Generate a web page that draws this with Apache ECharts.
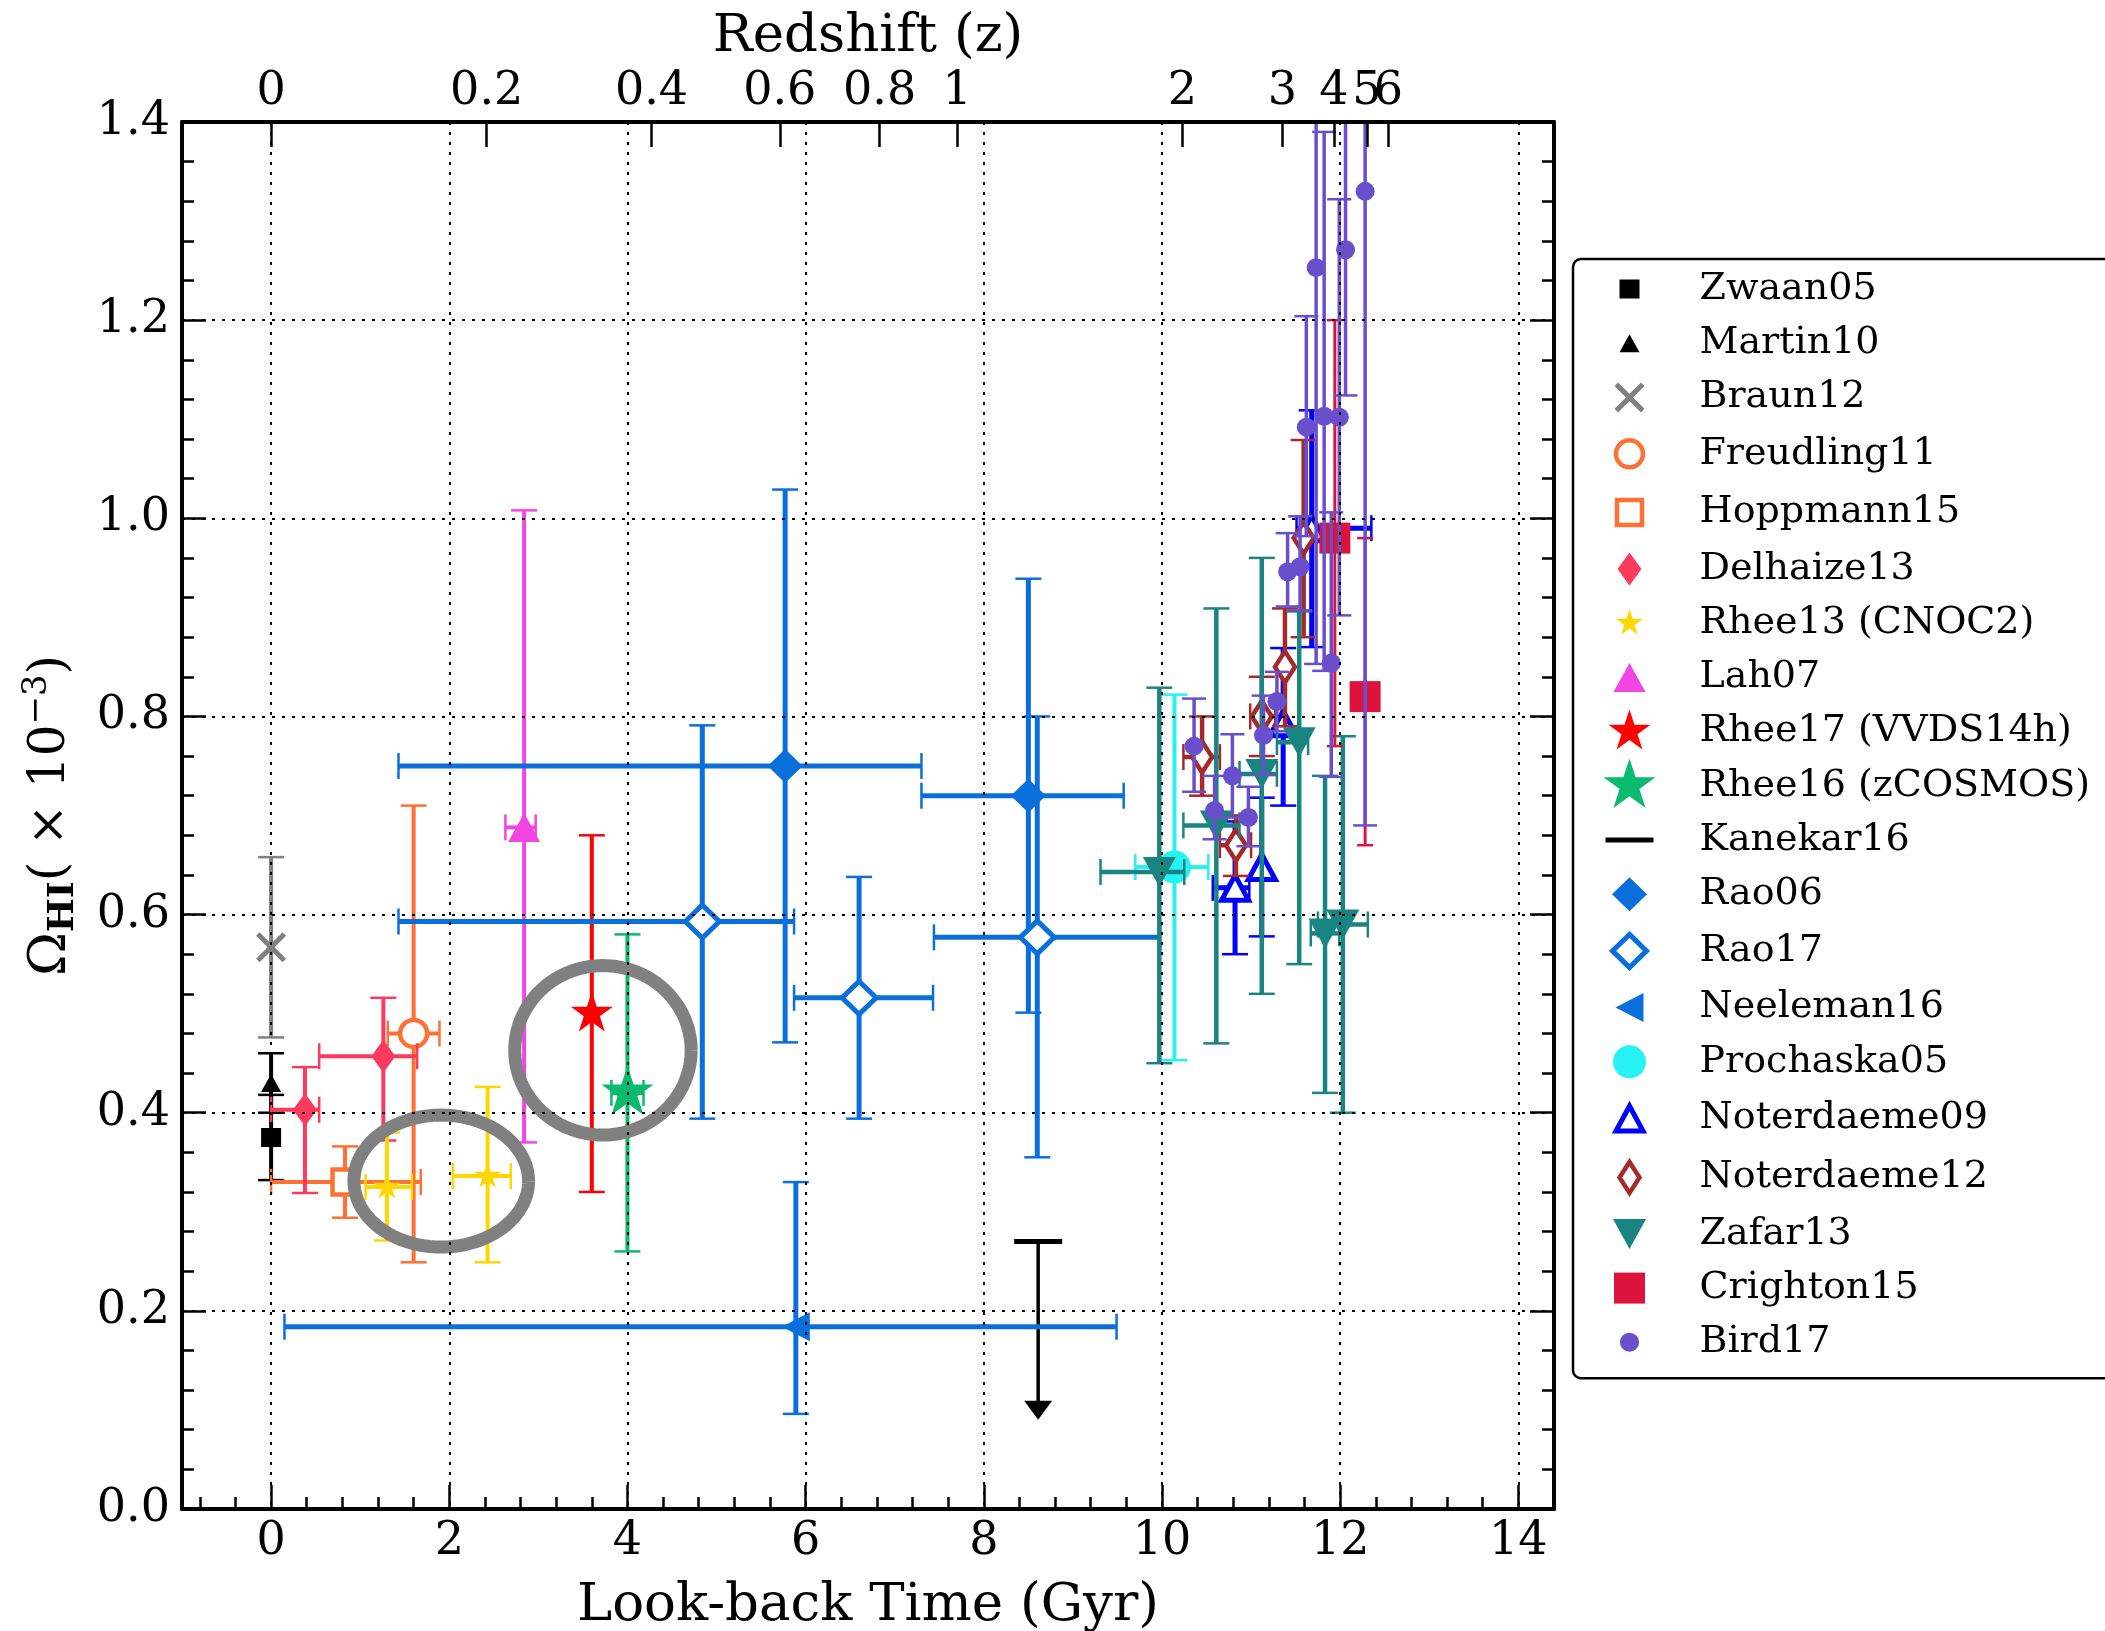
<!DOCTYPE html>
<html>
<head>
<meta charset="utf-8">
<script src="https://cdn.jsdelivr.net/npm/echarts@6/dist/echarts.min.js"></script>
<style>
  html, body { margin: 0; padding: 0; background: #ffffff; }
  #chart { width: 2105px; height: 1631px; }
</style>
</head>
<body>
<div id="chart"></div>
<script>
// Each row: [look-back time (Gyr), Omega_HI (x1e-3), x err -, x err +, y err -, y err +]
const zwaan05      = [[0.00, 0.375, 0, 0, 0.043, 0.043]];
const martin10     = [[0.00, 0.430, 0, 0, 0.030, 0.030]];
const braun12      = [[0.00, 0.567, 0, 0, 0.091, 0.091]];
const freudling11  = [[1.60, 0.480, 0.29, 0.29, 0.231, 0.230]];
const hoppmann15   = [[0.83, 0.330, 0.83, 0.85, 0.036, 0.036]];
const delhaize13   = [[0.38, 0.403, 0.38, 0.16, 0.084, 0.043],
                      [1.26, 0.457, 0.72, 0.38, 0.085, 0.059]];
const rhee13       = [[1.30, 0.325, 0.24, 0.28, 0.054, 0.055],
                      [2.43, 0.336, 0.39, 0.26, 0.087, 0.090]];
const lah07        = [[2.84, 0.688, 0.21, 0.13, 0.318, 0.320]];
const rhee17       = [[3.60, 0.500, 0, 0, 0.180, 0.180]];
const rhee16       = [[4.00, 0.420, 0.18, 0.18, 0.160, 0.160]];
// Kanekar16 upper limit: [look-back time, limit, arrow length]
const kanekar16    = [[8.61, 0.270, 0.180]];
const rao06        = [[5.77, 0.750, 4.34, 1.53, 0.279, 0.279],
                      [8.50, 0.720, 1.20, 1.07, 0.219, 0.219]];
const rao17        = [[4.84, 0.593, 3.41, 1.03, 0.199, 0.198],
                      [6.60, 0.516, 0.73, 0.83, 0.122, 0.122],
                      [8.60, 0.577, 1.16, 1.38, 0.222, 0.223]];
const neeleman16   = [[5.89, 0.184, 5.74, 3.60, 0.088, 0.146]];
const prochaska05  = [[10.14, 0.648, 0.44, 0.38, 0.195, 0.174]];
const noterdaeme09 = [[10.82, 0.627, 0.25, 0.16, 0.067, 0.067],
                      [11.12, 0.648, 0, 0, 0.070, 0.070],
                      [11.36, 0.793, 0, 0, 0.083, 0.076],
                      [11.68, 0.990, 0.17, 0.67, 0.120, 0.119]];
const noterdaeme12 = [[10.45, 0.759, 0.21, 0.20, 0.039, 0.041],
                      [10.83, 0.670, 0.18, 0.17, 0.031, 0.030],
                      [11.12, 0.800, 0.13, 0.15, 0.040, 0.040],
                      [11.38, 0.850, 0, 0, 0.060, 0.059],
                      [11.59, 0.980, 0, 0, 0.100, 0.099]];
const zafar13      = [[9.97, 0.643, 0.66, 0.28, 0.193, 0.186],
                      [10.61, 0.690, 0.37, 0.26, 0.220, 0.219],
                      [11.12, 0.742, 0.25, 0.17, 0.222, 0.218],
                      [11.54, 0.774, 0.25, 0.10, 0.224, 0.132],
                      [11.83, 0.581, 0.16, 0.16, 0.161, 0.159],
                      [12.03, 0.590, 0.28, 0.28, 0.190, 0.190]];
const crighton15   = [[11.94, 0.980, 0, 0, 0.210, 0.220],
                      [12.28, 0.820, 0, 0, 0.150, 0.160]];
const bird17       = [[10.36, 0.770, 0, 0, 0.046, 0.048],
                      [10.59, 0.705, 0, 0, 0.029, 0.035],
                      [10.79, 0.740, 0, 0, 0.042, 0.042],
                      [10.97, 0.698, 0, 0, 0.029, 0.031],
                      [11.14, 0.781, 0, 0, 0.040, 0.040],
                      [11.29, 0.815, 0, 0, 0.030, 0.030],
                      [11.41, 0.946, 0, 0, 0.035, 0.039],
                      [11.55, 0.951, 0, 0, 0.044, 0.051],
                      [11.62, 1.092, 0, 0, 0.110, 0.112],
                      [11.73, 1.253, 0, 0, 0.400, 0.400],
                      [11.82, 1.103, 0, 0, 0.257, 0.287],
                      [11.90, 0.854, 0, 0, 0.115, 0.152],
                      [11.99, 1.102, 0, 0, 0.200, 0.220],
                      [12.06, 1.271, 0, 0, 0.147, 0.147],
                      [12.28, 1.330, 0, 0, 0.640, 0.640]];

// Highlight rings: [centre time, centre Omega, radius in time, radius in Omega]
const highlightRings = [[1.91, 0.331, 0.98, 0.0666],
                        [3.725, 0.463, 0.99, 0.0855]];

// Axis ticks
const lookbackTicks    = [0, 2, 4, 6, 8, 10, 12, 14];
const redshiftLabels   = ['0', '0.2', '0.4', '0.6', '0.8', '1', '2', '3', '4', '5', '6'];
const redshiftLookback = [0, 2.42, 4.27, 5.71, 6.83, 7.70, 10.23, 11.35, 11.93, 12.30, 12.54];

const X_MIN = -1, X_MAX = 14.4, Y_MIN = 0, Y_MAX = 1.4;
const FONT = 'DejaVu Serif';

// minor ticks every 0.4 Gyr between the labelled ones
const lookbackMinor = [];
for (let k = -2; k < 36; k++) {
  const v = +(k * 0.4).toFixed(2);
  if (Math.abs(v / 2 - Math.round(v / 2)) > 1e-6) lookbackMinor.push(v);
}
// the closely packed redshift labels end with a blank slot at the axis end,
// so the end-label overlap check never drops "5" or "6"
const redshiftLabelSlots = redshiftLookback.concat([X_MAX]);

// ---- marker outlines (pixel units inside a fixed frame) ----
function shapePath(shape, w, h, cx, cy) {
  const f = n => +n.toFixed(2);
  const l = cx - w / 2, r = cx + w / 2, t = cy - h / 2, b = cy + h / 2;
  switch (shape) {
    case 'rect':
    case 'bar':
      return `M${f(l)} ${f(t)}L${f(r)} ${f(t)}L${f(r)} ${f(b)}L${f(l)} ${f(b)}Z`;
    case 'triUp':
      return `M${f(cx)} ${f(t)}L${f(r)} ${f(b)}L${f(l)} ${f(b)}Z`;
    case 'triDown':
      return `M${f(cx)} ${f(b)}L${f(l)} ${f(t)}L${f(r)} ${f(t)}Z`;
    case 'triLeft':
      return `M${f(l)} ${f(cy)}L${f(r)} ${f(t)}L${f(r)} ${f(b)}Z`;
    case 'diamond':
      return `M${f(cx)} ${f(t)}L${f(r)} ${f(cy)}L${f(cx)} ${f(b)}L${f(l)} ${f(cy)}Z`;
    case 'circle': {
      const rx = w / 2, ry = h / 2;
      return `M${f(l)} ${f(cy)}A${f(rx)} ${f(ry)} 0 1 0 ${f(r)} ${f(cy)}A${f(rx)} ${f(ry)} 0 1 0 ${f(l)} ${f(cy)}Z`;
    }
    case 'star': {
      const R = w / 1.902, ri = R * 0.381966;
      let p = '';
      for (let k = 0; k < 10; k++) {
        const a = (-90 + 36 * k) * Math.PI / 180;
        const rr = k % 2 === 0 ? R : ri;
        p += (k === 0 ? 'M' : 'L') + f(cx + rr * Math.cos(a)) + ' ' + f(cy + rr * Math.sin(a));
      }
      return p + 'Z';
    }
    case 'cross': {
      const a = w / 2, e = 5 / Math.SQRT2;
      const pts = [[-a, -a + e], [-a + e, -a], [0, -e], [a - e, -a], [a, -a + e], [e, 0],
                   [a, a - e], [a - e, a], [0, e], [-a + e, a], [-a, a - e], [-e, 0]];
      return pts.map((q, i) => (i === 0 ? 'M' : 'L') + f(cx + q[0]) + ' ' + f(cy + q[1])).join('') + 'Z';
    }
  }
  return '';
}
function framed(shape, w, h, fw, fh, cx, cy) {
  return 'path://M0 0M' + fw + ' ' + fh + shapePath(shape, w, h, cx, cy);
}

// ---- series styles ----
const sets = [
  { name: 'Zwaan05',          data: zwaan05,      color: '#000000', shape: 'rect',    w: 20, h: 19, lw: 4,   cap: 26 },
  { name: 'Martin10',         data: martin10,     color: '#000000', shape: 'triUp',   w: 20, h: 18, lw: 4,   cap: 26 },
  { name: 'Braun12',          data: braun12,      color: '#808080', shape: 'cross',   w: 30, h: 30, lw: 4,   cap: 26 },
  { name: 'Freudling11',      data: freudling11,  color: '#FF7133', shape: 'circle',  w: 27, h: 27, lw: 4,   cap: 26, open: 4.5 },
  { name: 'Hoppmann15',       data: hoppmann15,   color: '#FF7133', shape: 'rect',    w: 25, h: 25, lw: 4,   cap: 26, open: 4.5 },
  { name: 'Delhaize13',       data: delhaize13,   color: '#FB3A5E', shape: 'diamond', w: 24, h: 33, lw: 4,   cap: 26 },
  { name: 'Rhee13 (CNOC2)',   data: rhee13,       color: '#FFD700', shape: 'star',    w: 27, h: 27, lw: 4,   cap: 26 },
  { name: 'Lah07',            data: lah07,        color: '#F245E4', shape: 'triUp',   w: 32, h: 29, lw: 4,   cap: 26 },
  { name: 'Rhee17 (VVDS14h)', data: rhee17,       color: '#FF0000', shape: 'star',    w: 42, h: 42, lw: 4,   cap: 26 },
  { name: 'Rhee16 (zCOSMOS)', data: rhee16,       color: '#0ABA6D', shape: 'star',    w: 52, h: 52, lw: 4,   cap: 26 },
  { name: 'Kanekar16',        data: kanekar16,    color: '#000000', shape: 'bar',     w: 48, h: 5,  limit: true },
  { name: 'Rao06',            data: rao06,        color: '#0B6FDB', shape: 'diamond', w: 35, h: 34, lw: 5,   cap: 26 },
  { name: 'Rao17',            data: rao17,        color: '#0B6FDB', shape: 'diamond', w: 34, h: 33, lw: 5,   cap: 26, open: 5 },
  { name: 'Neeleman16',       data: neeleman16,   color: '#0B6FDB', shape: 'triLeft', w: 28, h: 29, lw: 5,   cap: 26 },
  { name: 'Prochaska05',      data: prochaska05,  color: '#27F2F2', shape: 'circle',  w: 33, h: 33, lw: 4,   cap: 26 },
  { name: 'Noterdaeme09',     data: noterdaeme09, color: '#0000FF', shape: 'triUp',   w: 27, h: 25, lw: 5,   cap: 26, open: 5 },
  { name: 'Noterdaeme12',     data: noterdaeme12, color: '#A52A2A', shape: 'diamond', w: 20, h: 31, lw: 4.5, cap: 26, open: 4.5 },
  { name: 'Zafar13',          data: zafar13,      color: '#1A8482', shape: 'triDown', w: 33, h: 30, lw: 4.5, cap: 26 },
  { name: 'Crighton15',       data: crighton15,   color: '#DC143C', shape: 'rect',    w: 31, h: 31, lw: 3,   cap: 16 },
  { name: 'Bird17',           data: bird17,       color: '#6A4FCC', shape: 'circle',  w: 19, h: 19, lw: 3.5, cap: 24 }
];

function capLine(x1, y1, x2, y2, color) {
  return { type: 'line', shape: { x1, y1, x2, y2 }, style: { stroke: color, lineWidth: 2.5 } };
}

function errorBars(st) {
  return function (params, api) {
    const t = api.value(0), v = api.value(1);
    const xl = api.value(2), xh = api.value(3), yl = api.value(4), yh = api.value(5);
    const kids = [];
    const half = st.cap / 2;
    if (yl > 0 || yh > 0) {
      const top = Math.min(v + yh, Y_MAX), bot = Math.max(v - yl, Y_MIN);
      const pT = api.coord([t, top]), pB = api.coord([t, bot]);
      kids.push({ type: 'line', shape: { x1: pB[0], y1: pB[1], x2: pT[0], y2: pT[1] },
                  style: { stroke: st.color, lineWidth: st.lw } });
      if (v + yh <= Y_MAX) kids.push(capLine(pT[0] - half, pT[1], pT[0] + half, pT[1], st.color));
      if (v - yl >= Y_MIN) kids.push(capLine(pB[0] - half, pB[1], pB[0] + half, pB[1], st.color));
    }
    if (xl > 0 || xh > 0) {
      const pL = api.coord([Math.max(t - xl, X_MIN), v]), pR = api.coord([Math.min(t + xh, X_MAX), v]);
      kids.push({ type: 'line', shape: { x1: pL[0], y1: pL[1], x2: pR[0], y2: pR[1] },
                  style: { stroke: st.color, lineWidth: st.lw } });
      if (xl > 0) kids.push(capLine(pL[0], pL[1] - half, pL[0], pL[1] + half, st.color));
      if (xh > 0) kids.push(capLine(pR[0], pR[1] - half, pR[0], pR[1] + half, st.color));
    }
    return { type: 'group', children: kids };
  };
}

function upperLimit(st) {
  return function (params, api) {
    const t = api.value(0), v = api.value(1), len = api.value(2);
    const pTop = api.coord([t, v]), pTip = api.coord([t, v - len]);
    const headH = 19, headW = 28;
    return {
      type: 'group',
      children: [
        { type: 'line', shape: { x1: pTop[0], y1: pTop[1], x2: pTip[0], y2: pTip[1] - headH + 2 },
          style: { stroke: st.color, lineWidth: 3.5 } },
        { type: 'line', shape: { x1: pTop[0] - 24, y1: pTop[1], x2: pTop[0] + 24, y2: pTop[1] },
          style: { stroke: st.color, lineWidth: 5 } },
        { type: 'polygon', shape: { points: [[pTip[0] - headW / 2, pTip[1] - headH], [pTip[0] + headW / 2, pTip[1] - headH], [pTip[0], pTip[1]]] },
          style: { fill: st.color } }
      ]
    };
  };
}

const series = [];
sets.forEach((st, i) => {
  if (st.limit) {
    series.push({ type: 'custom', name: st.name, coordinateSystem: 'cartesian2d',
                  data: st.data, renderItem: upperLimit(st), z: 2 + i * 2, silent: true });
    return;
  }
  series.push({ type: 'custom', name: st.name, coordinateSystem: 'cartesian2d',
                data: st.data, renderItem: errorBars(st), z: 2 + i * 2, silent: true });
  series.push({
    type: 'scatter', name: st.name, data: st.data.map(r => [r[0], r[1]]),
    symbol: framed(st.shape, st.w, st.h, 60, 60, 30, 30), symbolSize: 60,
    itemStyle: st.open ? { color: '#ffffff', borderColor: st.color, borderWidth: st.open, opacity: 1 }
                       : { color: st.color, borderWidth: 0, opacity: 1 },
    z: 3 + i * 2, silent: true
  });
});

// grey highlight rings
series.push({
  type: 'custom', name: 'rings', coordinateSystem: 'cartesian2d', data: highlightRings, z: 60, silent: true,
  renderItem: function (params, api) {
    const cx = api.value(0), cy = api.value(1), rx = api.value(2), ry = api.value(3);
    const pts = [];
    for (let k = 0; k <= 144; k++) {
      const a = 2 * Math.PI * k / 144;
      pts.push(api.coord([cx + rx * Math.cos(a), cy + ry * Math.sin(a)]));
    }
    return { type: 'polyline', shape: { points: pts }, style: { stroke: '#808080', lineWidth: 13, fill: null } };
  }
});

const legendData = sets.map(st => ({
  name: st.name,
  icon: framed(st.shape, st.w, st.h, 100, 56, 35, 28),
  itemStyle: st.open ? { color: '#ffffff', borderColor: st.color, borderWidth: st.open, opacity: 1 }
                     : { color: st.color, borderColor: st.color, borderWidth: 0, opacity: 1 }
}));

const tickLabel = { fontFamily: FONT, fontSize: 46, color: '#000000' };
const dotted = { color: '#000000', width: 2, type: [3, 7] };
const spine = { show: true, onZero: false, lineStyle: { color: '#000000', width: 4 } };

const option = {
  animation: false,
  backgroundColor: '#ffffff',
  grid: { left: 182, right: 551, top: 122, bottom: 122, containLabel: false, outerBoundsMode: 'none' },
  legend: {
    orient: 'vertical', left: 1573, top: 259,
    itemWidth: 100, itemHeight: 56, itemGap: -1.8,
    padding: [2, 22, 8, 19],
    borderColor: '#000000', borderWidth: 2.5, borderRadius: 8, backgroundColor: '#ffffff',
    selectedMode: false,
    textStyle: { fontFamily: FONT, fontSize: 38, color: '#000000' },
    data: legendData
  },
  xAxis: [
    {
      type: 'value', position: 'bottom', min: X_MIN, max: X_MAX, z: 80,
      name: 'Look-back Time (Gyr)', nameLocation: 'middle', nameGap: 71,
      nameTextStyle: { fontFamily: FONT, fontSize: 53, color: '#000000' },
      axisLine: spine,
      axisTick: { show: true, inside: true, length: 24, customValues: lookbackTicks,
                  lineStyle: { color: '#000000', width: 2.5 } },
      axisLabel: Object.assign({ margin: 10, customValues: lookbackTicks, formatter: v => String(v) }, tickLabel),
      splitLine: { show: true, lineStyle: dotted },
      minorTick: { show: false }
    },
    {
      type: 'value', position: 'top', min: X_MIN, max: X_MAX, z: 80,
      name: 'Redshift (z)', nameLocation: 'middle', nameGap: 57,
      nameTextStyle: { fontFamily: FONT, fontSize: 53, color: '#000000' },
      axisLine: spine,
      axisTick: { show: true, inside: true, length: 25, customValues: redshiftLookback,
                  lineStyle: { color: '#000000', width: 2.5 } },
      axisLabel: Object.assign({
        margin: 7, customValues: redshiftLabelSlots, hideOverlap: false,
        showMinLabel: true, showMaxLabel: false,
        formatter: function (v) {
          const i = redshiftLookback.findIndex(q => Math.abs(q - v) < 1e-6);
          return i >= 0 ? redshiftLabels[i] : '';
        }
      }, tickLabel),
      splitLine: { show: false }
    },
    {
      type: 'value', position: 'bottom', min: X_MIN, max: X_MAX, z: 80,
      axisLine: { show: false },
      axisTick: { show: true, inside: true, length: 12, customValues: lookbackMinor,
                  lineStyle: { color: '#000000', width: 2.5 } },
      axisLabel: { show: false },
      splitLine: { show: false }
    }
  ],
  yAxis: [
    {
      type: 'value', position: 'left', min: Y_MIN, max: Y_MAX, interval: 0.2, z: 80,
      name: '{o|Ω}{s|HI}{n|( × 10}{p|−3}{n|)}',
      nameLocation: 'middle', nameGap: 100,
      nameTextStyle: {
        fontFamily: FONT, color: '#000000',
        rich: {
          o: { fontFamily: FONT, fontSize: 53, lineHeight: 62, color: '#000000' },
          n: { fontFamily: FONT, fontSize: 50, lineHeight: 62, color: '#000000' },
          s: { fontFamily: FONT, fontSize: 36, fontWeight: 'bold', lineHeight: 36, verticalAlign: 'bottom', color: '#000000' },
          p: { fontFamily: FONT, fontSize: 34, lineHeight: 34, verticalAlign: 'top', color: '#000000' }
        }
      },
      axisLine: spine,
      axisTick: { show: true, inside: true, length: 24, lineStyle: { color: '#000000', width: 2.5 } },
      minorTick: { show: true, splitNumber: 5, length: 12, lineStyle: { color: '#000000', width: 2.5 } },
      axisLabel: Object.assign({ margin: 12, formatter: v => v.toFixed(1) }, tickLabel),
      splitLine: { show: true, lineStyle: dotted },
      minorSplitLine: { show: false }
    },
    {
      type: 'value', position: 'right', min: Y_MIN, max: Y_MAX, interval: 0.2, z: 80,
      axisLine: spine,
      axisTick: { show: true, inside: true, length: 24, lineStyle: { color: '#000000', width: 2.5 } },
      minorTick: { show: true, splitNumber: 5, length: 12, lineStyle: { color: '#000000', width: 2.5 } },
      axisLabel: { show: false },
      splitLine: { show: false }
    }
  ],
  series: series
};

const chart = echarts.init(document.getElementById('chart'), null, { renderer: 'canvas' });
chart.setOption(option);
</script>
</body>
</html>
